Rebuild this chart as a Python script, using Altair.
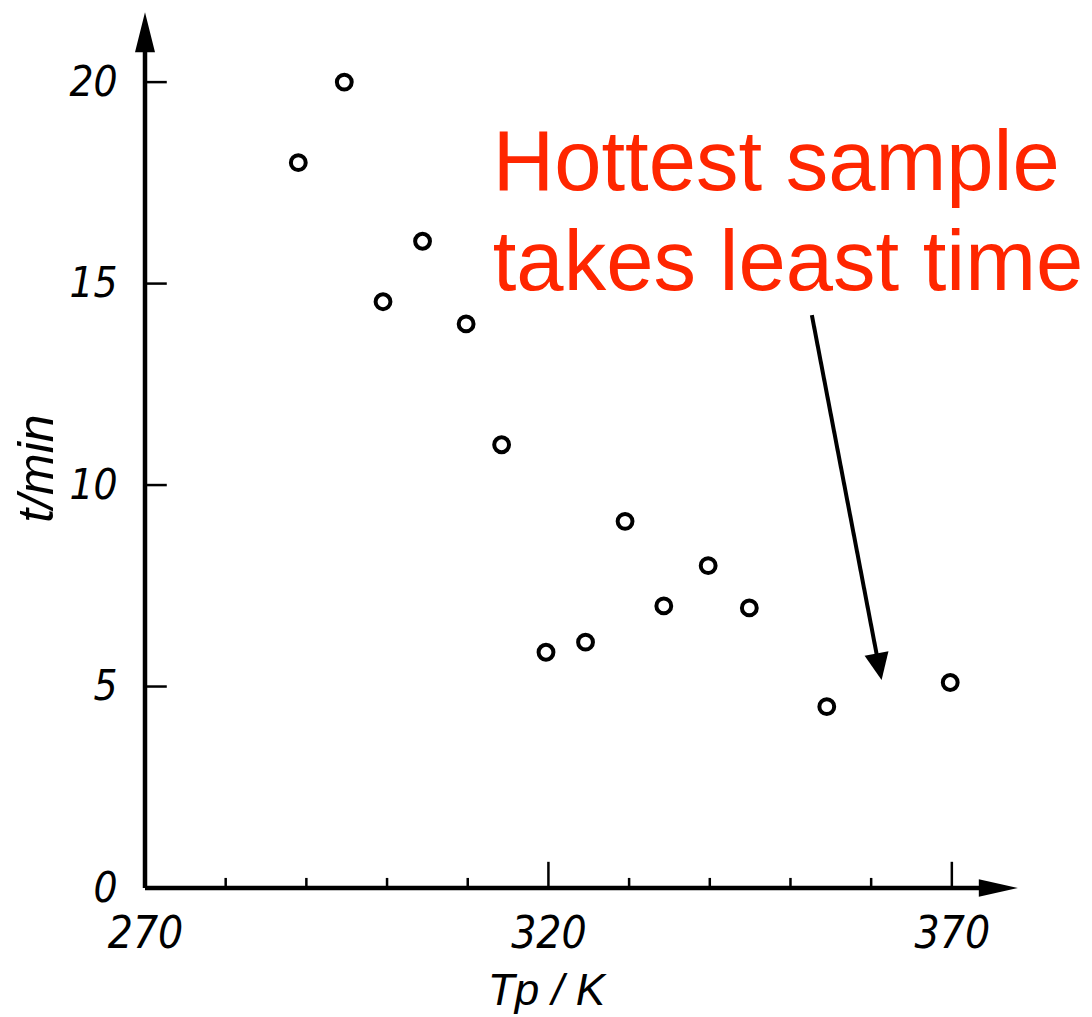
import altair as alt
import pandas as pd

# ---- data ----
temps_K = [289.0, 294.7, 299.5, 304.4, 309.8, 314.2, 319.7, 324.6, 329.5, 334.3, 339.8, 344.9, 354.5, 369.8]
times_min = [18.0, 20.0, 14.55, 16.05, 14.0, 11.0, 5.85, 6.1, 9.1, 7.0, 8.0, 6.95, 4.5, 5.1]

x_label_values = [270, 320, 370]
y_label_values = [0, 5, 10, 15, 20]
x_minor_ticks = [280, 290, 300, 310, 330, 340, 350, 360]
x_major_ticks = [320, 370]
y_ticks = [5, 10, 15, 20]

annotation_lines = ["Hottest sample", "takes least time"]

# ---- layout constants ----
X_DOMAIN = [270, 378.2]
Y_DOMAIN = [0, 21.74]
W, H = 873, 876
LABEL_FONT = "DejaVu Sans Condensed, DejaVu Sans"
TITLE_FONT = "Liberation Sans"
RED = "#FF2600"

xs = alt.Scale(domain=X_DOMAIN, nice=False, zero=False)
ys = alt.Scale(domain=Y_DOMAIN, nice=False, zero=False)

x_axis = alt.Axis(
    values=x_label_values, domain=False, ticks=False, tickSize=0, grid=False,
    labelFont=LABEL_FONT, labelFontStyle="italic", labelFontSize=44, labelColor="black",
    labelPadding=24, labelFlush=False, labelOverlap=False, labelBound=False,
    title="Tp / K", titleFont=TITLE_FONT, titleFontStyle="italic", titleFontWeight="normal",
    titleFontSize=44, titleColor="black", titleX=401, titleY=116,
    titleAlign="center", titleBaseline="alphabetic")
y_axis = alt.Axis(
    values=y_label_values, domain=False, ticks=False, tickSize=0, grid=False,
    labelFont=LABEL_FONT, labelFontStyle="italic", labelFontSize=42, labelColor="black",
    labelPadding=28, labelFlush=False, labelOverlap=False, labelBound=False,
    title="t/min", titleFont=TITLE_FONT, titleFontStyle="italic", titleFontWeight="normal",
    titleFontSize=50, titleColor="black", titleAngle=270, titleX=-108, titleY=456,
    titleAlign="center", titleBaseline="middle")


def X(field):
    return alt.X(field, type="quantitative", scale=xs, axis=x_axis, title="Tp / K")


def Y(field):
    return alt.Y(field, type="quantitative", scale=ys, axis=y_axis, title="t/min")


pts = pd.DataFrame({"T": temps_K, "t": times_min})

points = alt.Chart(pts).mark_point(
    shape="circle", filled=False, size=220, strokeWidth=4, color="black", opacity=1
).encode(x=X("T"), y=Y("t"))

# axis lines
axis_df = pd.DataFrame({
    "x": [X_DOMAIN[0], X_DOMAIN[0]], "y": [0, 0],
    "x2": [X_DOMAIN[0], 376.0], "y2": [21.3, 0],
})
axis_lines = alt.Chart(axis_df).mark_rule(color="black", strokeWidth=4.5).encode(
    x=X("x"), y=Y("y"), x2="x2:Q", y2="y2:Q")

# ticks
tick_rows = []
for v in x_minor_ticks:
    tick_rows.append({"x": v, "x2": v, "y": 0, "y2": 0.25})
for v in x_major_ticks:
    tick_rows.append({"x": v, "x2": v, "y": 0, "y2": 0.65})
for v in y_ticks:
    tick_rows.append({"x": X_DOMAIN[0], "x2": X_DOMAIN[0] + 2.7, "y": v, "y2": v})
ticks = alt.Chart(pd.DataFrame(tick_rows)).mark_rule(color="black", strokeWidth=2.5).encode(
    x=X("x"), y=Y("y"), x2="x2:Q", y2="y2:Q")

# axis arrow heads
y_head = alt.Chart(pd.DataFrame({"x": [X_DOMAIN[0]], "y": [21.24]})).mark_point(
    shape="M0,-1L0.5,1L-0.5,1Z", size=1600, filled=True, color="black", opacity=1
).encode(x=X("x"), y=Y("y"))

x_head = alt.Chart(pd.DataFrame({"x": [375.76], "y": [0]})).mark_point(
    shape="M0,-1L0.45,1L-0.45,1Z", size=1521, angle=90, filled=True, color="black", opacity=1
).encode(x=X("x"), y=Y("y"))

# annotation text
ann_df = pd.DataFrame({"label": annotation_lines, "x": [313.1, 313.1], "y": [17.32, 14.84]})
ann_text = alt.Chart(ann_df).mark_text(
    align="left", baseline="alphabetic", font=TITLE_FONT, fontSize=85, color=RED
).encode(x=X("x"), y=Y("y"), text="label:N")

# annotation arrow
arrow_df = pd.DataFrame({"x": [352.65], "y": [14.22], "x2": [360.98], "y2": [5.49]})
arrow_line = alt.Chart(arrow_df).mark_rule(color="black", strokeWidth=4).encode(
    x=X("x"), y=Y("y"), x2="x2:Q", y2="y2:Q")
arrow_head = alt.Chart(pd.DataFrame({"x": [360.98], "y": [5.49]})).mark_point(
    shape="M0,-1L0.9,1L-0.9,1Z", size=729, angle=169.2, filled=True, color="black", opacity=1
).encode(x=X("x"), y=Y("y"))

chart = alt.layer(
    points, axis_lines, ticks, y_head, x_head, ann_text, arrow_line, arrow_head
).properties(
    width=W, height=H,
    autosize=alt.AutoSizeParams(type="none"),
    padding={"left": 145, "top": 12, "right": 74, "bottom": 129},
    background="white",
).configure_view(strokeWidth=0)

chart.save("out.html", embed_options={"renderer": "svg", "actions": False})
